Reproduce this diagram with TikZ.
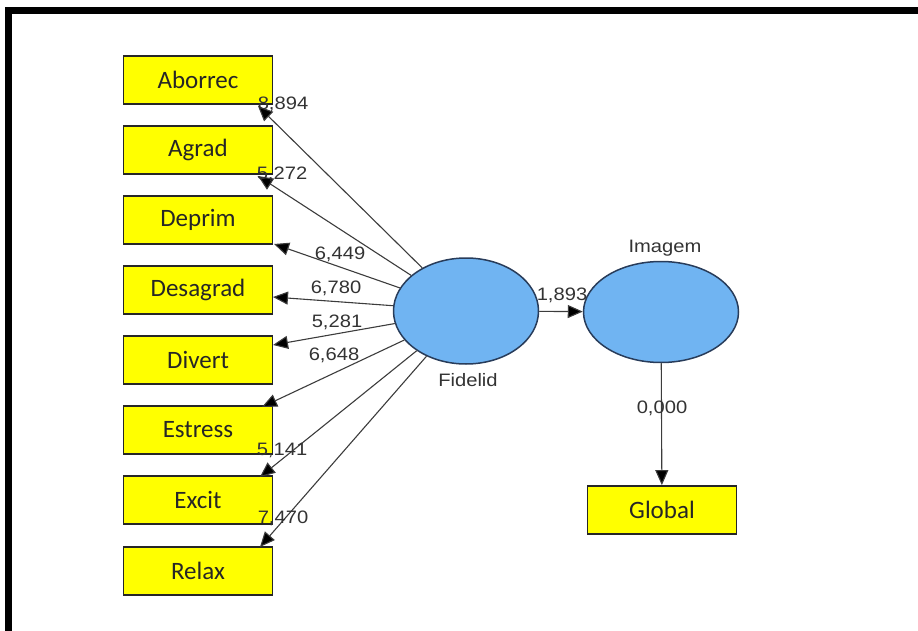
\documentclass[tikz,border=0pt]{standalone}
\usepackage{fontspec}
\usetikzlibrary{arrows.meta,shapes.geometric}
\newfontfamily\boxfont{Carlito}
\newfontfamily\labfont[FakeStretch=1.12]{Liberation Sans}
\definecolor{boxyellow}{RGB}{255,255,0}
\definecolor{ellblue}{RGB}{112,180,242}
\definecolor{ellline}{RGB}{40,60,90}
\definecolor{lnk}{RGB}{60,60,60}
\begin{document}
\begin{tikzpicture}[x=1pt,y=-1pt,
  ind/.style={draw=black!85,line width=1.8pt,fill=boxyellow,minimum width=149pt,minimum height=48pt,inner sep=0pt,font=\boxfont\fontsize{25}{29}\selectfont,text=black!85},
  lat/.style={ellipse,draw=ellline,line width=1.5pt,fill=ellblue,inner sep=0pt},
  lab/.style={font=\labfont\fontsize{18}{20}\selectfont,text=black!80,inner sep=0pt},
  arr/.style={draw=lnk,line width=1.1pt,-{Triangle[length=15pt,width=13pt,fill=black]}}
]
\useasboundingbox (0,0) rectangle (918,631);
\draw[line width=7pt,line join=miter] (8.5,640) -- (8.5,10.5) -- (925,10.5);
% indicator boxes
\node[ind] (abo) at (198,80) {Aborrec};
\node[ind] (agr) at (198,150) {Agrad};
\node[ind] (dep) at (198,220) {Deprim};
\node[ind] (des) at (198,290) {Desagrad};
\node[ind] (div) at (198,360) {Divert};
\node[ind] (est) at (198,430) {Estress};
\node[ind] (exc) at (198,500) {Excit};
\node[ind] (rel) at (198,571) {Relax};
\node[ind] (glo) at (662,510) {Global};
% latent variables
\node[lat,minimum width=145pt,minimum height=106pt] (fid) at (466,311) {};
\node[lat,minimum width=155pt,minimum height=101pt] (ima) at (661,312) {};
\node[lab] (fidl) at (468,380) {Fidelid};
\node[lab] (imal) at (665,248) {Imagem};
% tips
\coordinate (tabo) at (258,106);
\coordinate (tagr) at (258,176);
\coordinate (tdep) at (274,244);
\coordinate (tdes) at (273,297);
\coordinate (tdiv) at (273,345);
\coordinate (test) at (262,407);
\coordinate (texc) at (260,477);
\coordinate (trel) at (260,547);
\draw[arr] (fid) -- (tabo);
\draw[arr] (fid) -- (tagr);
\draw[arr] (fid) -- (tdep);
\draw[arr] (fid) -- (tdes);
\draw[arr] (fid) -- (tdiv);
\draw[arr] (fid) -- (test);
\draw[arr] (fid) -- (texc);
\draw[arr] (fid) -- (trel);
\draw[arr] (fid) -- (ima);
\draw[arr] (ima) -- (glo);
% weights
\node[lab] (w1) at (283,104) {8,894};
\node[lab] (w2) at (282,174) {5,272};
\node[lab] (w3) at (340,254) {6,449};
\node[lab] (w4) at (336,288) {6,780};
\node[lab] (w5) at (337,322) {5,281};
\node[lab] (w6) at (334,355) {6,648};
\node[lab] (w7) at (282,450) {5,141};
\node[lab] (w8) at (283,518) {7,470};
\node[lab] (w9) at (562,295) {1,893};
\node[lab] (w10) at (662,408) {0,000};
\end{tikzpicture}
\end{document}
